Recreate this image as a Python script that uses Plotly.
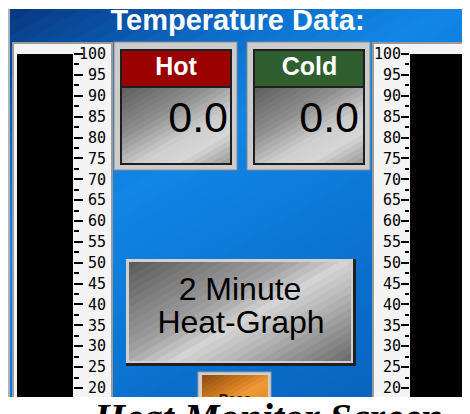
import math
import plotly.graph_objects as go

# ---------------- data ----------------
SCALE_TICKS = [20, 25, 30, 35, 40, 45, 50, 55, 60, 65, 70, 75, 80, 85, 90, 95, 100]
SCALE_MINOR_STEP = 2.5
SCALE_RANGE = [17.84, 101.92]
TUBE_TOP = [100]
HOT_VALUE = [0.0]
COLD_VALUE = [0.0]
TITLE = "Temperature Data:"
HOT_LABEL = "Hot"
COLD_LABEL = "Cold"
BUTTON_LINES = ["2 Minute", "Heat-Graph"]
SMALL_BUTTON = "Pass"
CAPTION = "Heat Monitor Screen"

# page is 470x414; the page body has an 8px margin, so the figure starts at (8, 8)
PAGE_W, PAGE_H = 470, 414
OFF = 8
FW, FH = PAGE_W - OFF, PAGE_H - OFF
SANS = "Liberation Sans, Arial, sans-serif"
MONO = "DejaVu Sans Mono, Liberation Mono, monospace"


def dx(px):
    return (px - OFF) / FW


def dy(py):
    return 1 - (py - OFF) / FH


shapes = []


def hex2rgb(h):
    h = h.lstrip('#')
    return [int(h[i:i + 2], 16) for i in (0, 2, 4)]


def interp(stops, t):
    for (t0, c0), (t1, c1) in zip(stops[:-1], stops[1:]):
        if t <= t1:
            f = 0 if t1 == t0 else (t - t0) / (t1 - t0)
            a, b = hex2rgb(c0), hex2rgb(c1)
            return 'rgb(%d,%d,%d)' % tuple(round(a[i] + (b[i] - a[i]) * f) for i in range(3))
    return stops[-1][1]


def clip(poly, ux, uy, c, ge):
    out = []
    n = len(poly)
    for i in range(n):
        p, q = poly[i], poly[(i + 1) % n]
        sp = ux * p[0] + uy * p[1] - c
        sq = ux * q[0] + uy * q[1] - c
        if not ge:
            sp, sq = -sp, -sq
        if sp >= 0:
            out.append(p)
        if (sp >= 0) != (sq >= 0):
            f = sp / (sp - sq)
            out.append((p[0] + (q[0] - p[0]) * f, p[1] + (q[1] - p[1]) * f))
    return out


def rect(x0, y0, x1, y1, fill, line=None, lw=0):
    shapes.append(dict(type='rect', xref='x', yref='y', x0=x0, y0=y0, x1=x1, y1=y1,
                       fillcolor=fill, line=dict(color=line or fill, width=lw), layer='below'))


def grad_rect(x0, y0, x1, y1, stops, n=28, ang=30):
    r = math.radians(ang)
    ux, uy = math.sin(r), math.cos(r)
    corners = [(x0, y0), (x1, y0), (x1, y1), (x0, y1)]
    ss = [ux * x + uy * y for x, y in corners]
    smin, smax = min(ss), max(ss)
    for i in range(n):
        a = smin + (smax - smin) * i / n
        b = smin + (smax - smin) * (i + 1) / n + 0.8
        poly = clip(clip(corners, ux, uy, a, True), ux, uy, b, False)
        if len(poly) < 3:
            continue
        path = 'M ' + ' L '.join('%.2f,%.2f' % p for p in poly) + ' Z'
        shapes.append(dict(type='path', xref='x', yref='y', path=path,
                           fillcolor=interp(stops, (i + 0.5) / n), line=dict(width=0), layer='below'))


# ---------------- panel background ----------------
rect(8, 9, 10, 397, '#a9b4c2')
grad_rect(10, 9, 470, 397, [(0, '#08387e'), (0.09, '#0a4c9e'), (0.22, '#0c6cc8'),
                            (0.38, '#1286e6'), (0.56, '#0c7ad8'), (0.77, '#0a6cc8'), (1, '#0860b8')], n=48)

# thermometer frames
rect(13, 43, 112, 400, '#f4f4f4', '#9a9a9a', 2)
rect(373, 43, 471, 400, '#f4f4f4', '#9a9a9a', 2)

# Hot / Cold boxes
body_stops = [(0, '#5e5e5e'), (0.35, '#8e8e8e'), (0.62, '#cfcfcf'), (0.78, '#d6d6d6'), (1, '#9a9a9a')]
for (ox0, ox1, hdr) in [(114, 237, '#9a0000'), (247, 370, '#2f5f2f')]:
    rect(ox0, 42, ox1, 170, '#cccccc', '#8a8a8a', 1)
    rect(ox0 + 6, 49, ox1 - 5, 165, '#1e1e1e')
    rect(ox0 + 8, 51, ox1 - 7, 86, hdr)
    grad_rect(ox0 + 8, 88, ox1 - 7, 163, body_stops, n=24)

# big button
rect(126, 259, 356, 366, '#202020')
rect(126, 259, 353, 363, '#d0d0d0')
grad_rect(129, 262, 351, 361, [(0, '#5a5a5a'), (0.4, '#a0a0a0'), (0.55, '#d4d4d4'),
                               (0.7, '#b4b4b4'), (1, '#6a6a6a')], n=30)

# small orange button
rect(198, 372, 271, 400, '#d0d0d0', '#9a9a9a', 1)
grad_rect(202, 375, 268, 400, [(0, '#8a4a10'), (0.45, '#d07a20'), (0.7, '#f09a38'), (1, '#e08a28')], n=14)

fig = go.Figure()


def text_trace(x, y, txt, size, color, family=SANS, weight='normal', pos='middle center'):
    fig.add_trace(go.Scatter(x=[x], y=[y], mode='text', text=[txt], textposition=pos,
                             textfont=dict(family=family, size=size, color=color, weight=weight),
                             hoverinfo='skip', showlegend=False, cliponaxis=True,
                             xaxis='x', yaxis='y'))


text_trace(237.5, 22.5, TITLE, 29, 'white', weight='bold')
text_trace(176, 69, HOT_LABEL, 25, 'white', weight='bold')
text_trace(309.5, 69, COLD_LABEL, 25, 'white', weight='bold')
text_trace(228, 121, '%.1f' % HOT_VALUE[0], 43, 'black', pos='middle left')
text_trace(359, 121, '%.1f' % COLD_VALUE[0], 43, 'black', pos='middle left')
text_trace(240, 292, BUTTON_LINES[0], 32, 'black')
text_trace(241, 325, BUTTON_LINES[1], 32, 'black')
text_trace(235, 400, SMALL_BUTTON, 14, '#2a1800', weight='bold')

# thermometer tubes (through their own scales)
for xa, ya, val in [('x2', 'y2', HOT_VALUE), ('x3', 'y3', COLD_VALUE)]:
    fig.add_trace(go.Bar(x=[0], y=TUBE_TOP, base=0, width=1, marker=dict(color='black', line=dict(width=0)),
                         xaxis=xa, yaxis=ya, hoverinfo='skip', showlegend=False))
    fig.add_trace(go.Bar(x=[0], y=val, base=0, width=1,
                         marker=dict(color='#d00000', line=dict(width=0)),
                         xaxis=xa, yaxis=ya, hoverinfo='skip', showlegend=False))

pad = lambda v: ('%3d' % v).replace(' ', '\u00a0')
left_labels = [pad(v) for v in SCALE_TICKS]
right_labels = [str(v) for v in SCALE_TICKS]

ydom = [dy(397), dy(46)]


def scale_axis(side, anchor, ticklen, minorlen, labels, standoff):
    return dict(domain=ydom, anchor=anchor, range=SCALE_RANGE, side=side,
                tickmode='array', tickvals=SCALE_TICKS, ticktext=labels,
                ticks='outside', ticklen=ticklen, tickwidth=1.5, tickcolor='black',
                minor=dict(tickmode='linear', tick0=0, dtick=SCALE_MINOR_STEP, ticks='outside',
                           ticklen=minorlen, tickwidth=1.5, tickcolor='black', showgrid=False),
                showgrid=False, zeroline=False, showline=False, fixedrange=True,
                ticklabelstandoff=standoff,
                tickfont=dict(family=MONO, size=15, color='black'))


fig.update_layout(
    width=FW, height=FH, margin=dict(l=0, r=0, t=0, b=0),
    paper_bgcolor='white', plot_bgcolor='rgba(0,0,0,0)',
    barmode='overlay', showlegend=False,
    xaxis=dict(domain=[dx(8), dx(470)], range=[8, 470], visible=False, fixedrange=True),
    yaxis=dict(domain=[dy(397), dy(9)], range=[397, 9], visible=False, fixedrange=True),
    xaxis2=dict(domain=[dx(17), dx(73)], range=[-0.5, 0.5], visible=False, anchor='y2', fixedrange=True),
    yaxis2=scale_axis('right', 'x2', 9, 5, left_labels, -7),
    xaxis3=dict(domain=[dx(410), dx(467)], range=[-0.5, 0.5], visible=False, anchor='y3', fixedrange=True),
    yaxis3=scale_axis('left', 'x3', 8, 4, right_labels, -3),
    shapes=shapes,
    annotations=[dict(text='<b><i>' + CAPTION + '</i></b>', xref='paper', yref='paper',
                      x=dx(91), y=dy(393), xanchor='left', yanchor='top', showarrow=False,
                      font=dict(family='Liberation Serif, DejaVu Serif, serif', size=40, color='black'))],
)

fig.write_html("out.html")
